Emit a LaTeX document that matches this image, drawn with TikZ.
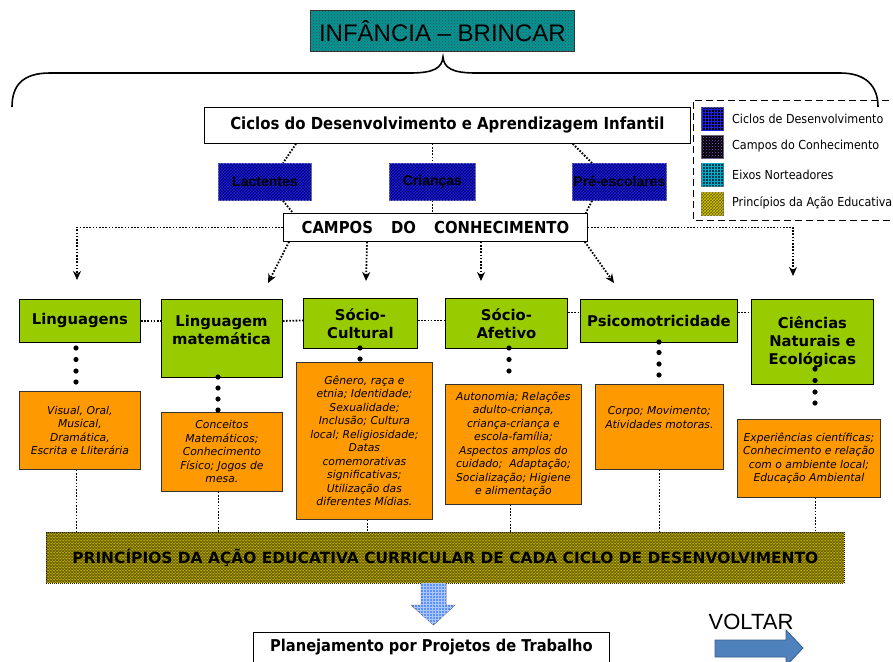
\documentclass[tikz,border=0pt]{standalone}
\usepackage{fontspec}
\usepackage{graphicx}
\usetikzlibrary{arrows.meta,patterns}
\newfontfamily\verd{DejaVu Sans}
\newfontfamily\arl{Liberation Sans}
\newfontfamily\cnd{DejaVu Sans Condensed}
\definecolor{grn}{RGB}{153,204,0}
\definecolor{org}{RGB}{255,153,0}
\definecolor{tealc}{RGB}{0,150,150}
\definecolor{navy}{RGB}{0,0,95}
\definecolor{navyp}{RGB}{30,30,235}
\definecolor{olivec}{RGB}{105,95,0}
\definecolor{olivep}{RGB}{215,200,0}
\definecolor{lblue}{RGB}{95,145,250}
\definecolor{lbluep}{RGB}{170,200,255}
\definecolor{voltc}{RGB}{79,129,189}
\definecolor{voltd}{RGB}{56,93,138}
\begin{document}
\begin{tikzpicture}[x=1pt,y=-1pt,
  gbox/.style={draw=black, line width=0.9pt, fill=grn, anchor=north west, inner sep=0pt, align=center,
    font=\verd\bfseries\fontsize{14.8}{18}\selectfont},
  gtext/.style={inner sep=0pt, align=center, font=\verd\bfseries\fontsize{14.8}{18}\selectfont},
  obox/.style={draw=black!80, line width=0.8pt, fill=org, anchor=north west, inner sep=0pt, align=center,
    font=\verd\itshape\fontsize{10.8}{13.5}\selectfont},
  bbox/.style={draw=black!50, line width=0.8pt, fill=navy, postaction={pattern=crosshatch, pattern color=navyp},
    anchor=north west, inner sep=0pt, font=\arl\bfseries\fontsize{14}{16}\selectfont, text=black},
  wbox/.style={draw=black, line width=0.8pt, fill=white, anchor=north west, inner sep=0pt},
  dline/.style={line width=1.8pt, dash pattern=on 1.6pt off 1.6pt},
  darr/.style={dline, -{Stealth[length=9pt,width=8pt]}},
  lsq/.style={draw=black!60, line width=0.5pt, anchor=north west, inner sep=0pt, minimum width=22pt, minimum height=23pt},
  ltxt/.style={anchor=west, inner sep=0pt, font=\cnd\fontsize{12.4}{14}\selectfont},
  bdot/.style={fill=black}
]
\useasboundingbox (0,0) rectangle (893,661);

% title
\node[draw=black!80, line width=0.8pt, fill=tealc, postaction={pattern=crosshatch dots, pattern color=black!70},
  anchor=north west, inner sep=0pt, minimum width=264pt, minimum height=41pt,
  font=\arl\fontsize{24}{26}\selectfont] (title) at (310,10) {INFÂNCIA – BRINCAR};

% brace
\draw[line width=1.6pt] (12,107) .. controls (12,86) and (22,73) .. (50,73) -- (410,73)
  .. controls (434,73) and (442,68) .. (443,57)
  .. controls (444,68) and (452,73) .. (476,73) -- (840,73)
  .. controls (866,73) and (878,86) .. (878,107);

% legend
\draw[line width=1pt, dash pattern=on 7pt off 4pt] (900,100) -- (693,100) -- (693,220) -- (900,220);
\node[lsq, fill=black, postaction={pattern=grid, pattern color=navyp}] (l1) at (701,107) {};
\node[lsq, fill=black, postaction={pattern=crosshatch dots, pattern color={rgb,255:red,150;green,80;blue,230}}] (l2) at (701,135) {};
\node[lsq, fill={rgb,255:red,0;green,60;blue,80}, postaction={pattern=grid, pattern color={rgb,255:red,0;green,170;blue,200}}] (l3) at (701,163) {};
\node[lsq, fill=olivec, postaction={pattern=crosshatch, pattern color=olivep}] (l4) at (701,192) {};
\node[ltxt] (l1t) at (732,118.5) {Ciclos de Desenvolvimento};
\node[ltxt] (l2t) at (732,146.5) {Campos do Conhecimento};
\node[ltxt] (l3t) at (732,174.5) {Eixos Norteadores};
\node[ltxt] (l4t) at (732,203) {Princípios da Ação Educativa};

% ciclos box
\node[wbox, minimum width=486pt, minimum height=36pt, font=\cnd\bfseries\fontsize{16.6}{18}\selectfont] (cic) at (204,107)
  {Ciclos do Desenvolvimento e Aprendizagem Infantil};

% blue boxes
\node[bbox, minimum width=93pt, minimum height=37pt] (b1) at (218,163) {Lactentes};
\node[bbox, minimum width=86pt, minimum height=37pt] (b2) at (389,163) {Crianças};
\node[bbox, minimum width=94pt, minimum height=37pt] (b3) at (572,163) {Pré-escolares};

% campos box
\node[wbox, minimum width=304pt, minimum height=28pt, font=\cnd\bfseries\fontsize{16.5}{18}\selectfont] (camp) at (283,213)
  {CAMPOS\hspace{1.1em}DO\hspace{1.1em}CONHECIMENTO};

% ciclos -> blue -> campos
\draw[dline] ([xshift=92pt]cic.south west) -- ([xshift=65pt]b1.north west);
\draw[dline] (b2.north |- cic.south) -- (b2.north);
\draw[dline] ([xshift=-118pt]cic.south east) -- ([xshift=20pt]b3.north west);
\draw[dline] ([xshift=65pt]b1.south west) -- ([xshift=10pt]camp.north west);
\draw[dline] (b2.south) -- (b2.south |- camp.north);
\draw[dline] ([xshift=20pt]b3.south west) -- ([xshift=-2pt]camp.north east);

% green boxes
\node[gbox, minimum width=121pt, minimum height=43pt] (g1) at (19,299) {Linguagens};
\node[gbox, minimum width=121pt, minimum height=78pt] (g2) at (161,299) {};
\node[gtext] (g2t) at (221.5,330) {Linguagem\\matemática};
\node[gbox, minimum width=114pt, minimum height=50pt] (g3) at (303,298) {Sócio-\\Cultural};
\node[gbox, minimum width=122pt, minimum height=50pt] (g4) at (445,298) {Sócio-\\Afetivo};
\node[gbox, minimum width=157pt, minimum height=43pt] (g5) at (580,299) {Psicomotricidade};
\node[gbox, minimum width=122pt, minimum height=85pt] (g6) at (751,299) {Ciências\\Naturais e\\Ecológicas};

% arrows from campos
\coordinate (a1) at (77,280);
\coordinate (a2) at (268,283);
\coordinate (a3) at (366,281);
\coordinate (a4) at (481,281);
\coordinate (a5) at (614,283);
\coordinate (a6) at (793,276);
\draw[darr] (camp.west) -| (a1);
\draw[darr] ([xshift=6pt]camp.south west) -- (a2);
\draw[darr] ([xshift=84pt]camp.south west) -- (a3);
\draw[darr] ([xshift=198pt]camp.south west) -- (a4);
\draw[darr] ([xshift=-3pt]camp.south east) -- (a5);
\draw[darr] (camp.east) -| (a6);

% green links
\draw[dline] (g1.east) -- ([yshift=17.5pt]g2.west);
\draw[dline] ([yshift=17.5pt]g2.east) -- ([yshift=3pt]g3.west);
\draw[dline] ([yshift=3pt]g3.east) -- ([yshift=3pt]g4.west);
\draw[dline] ([yshift=11pt]g4.east) -- ([yshift=8.5pt]g5.west);
\draw[dline] ([yshift=8.5pt]g5.east) -- ([yshift=29.5pt]g6.west);

% orange boxes
\node[obox, minimum width=121pt, minimum height=78pt] (o1) at (19,391)
  {Visual, Oral,\\Musical,\\Dramática,\\Escrita e Lliterária};
\node[obox, minimum width=121pt, minimum height=79pt] (o2) at (161,412)
  {Conceitos\\Matemáticos;\\Conhecimento\\Físico; Jogos de\\mesa.};
\node[obox, minimum width=136pt, minimum height=157pt] (o3) at (296,362)
  {Gênero, raça e\\etnia; Identidade;\\Sexualidade;\\Inclusão; Cultura\\local; Religiosidade;\\Datas\\comemorativas\\significativas;\\Utilização das\\diferentes Mídias.};
\node[obox, minimum width=136pt, minimum height=120pt] (o4) at (445,384)
  {Autonomia; Relações\\adulto-criança,\\criança-criança e\\escola-família;\\Aspectos amplos do\\cuidado;\ \ Adaptação;\\Socialização; Higiene\\e alimentação};
\node[obox, minimum width=128pt, minimum height=85pt] (o5) at (595,384)
  {Corpo; Movimento;\\Atividades motoras.\\[6pt]};
\node[obox, minimum width=143pt, minimum height=78pt] (o6) at (737,419)
  {Experiências científicas;\\Conhecimento e relação\\com o ambiente local;\\Educação Ambiental};

% bullet chains
\foreach \yy in {348,359.5,371,382} \fill[bdot] (76,\yy) circle (2.6pt);
\foreach \yy in {377,388,399,410} \fill[bdot] (218,\yy) circle (2.6pt);
\foreach \yy in {348,359} \fill[bdot] (360,\yy) circle (2.6pt);
\foreach \yy in {348,359.5,371} \fill[bdot] (509,\yy) circle (2.6pt);
\foreach \yy in {342,352.5,364,375} \fill[bdot] (659,\yy) circle (2.6pt);
\foreach \yy in {369,380.5,392,403} \fill[bdot] (815,\yy) circle (2.6pt);

% principles bar
\node[draw=black, line width=0.6pt, dash pattern=on 1pt off 1pt, fill=olivec, postaction={pattern=crosshatch, pattern color=olivep},
  anchor=north west, inner sep=0pt, minimum width=798pt, minimum height=51pt] (bar) at (46,532)
  {\resizebox{746pt}{!}{\verd\bfseries PRINCÍPIOS DA AÇÃO EDUCATIVA CURRICULAR DE CADA CICLO DE DESENVOLVIMENTO}};

% orange -> bar
\draw[dline] ([xshift=-3.5pt]o1.south) -- ([xshift=-3.5pt]o1.south |- bar.north);
\draw[dline] ([xshift=-3.5pt]o2.south) -- ([xshift=-3.5pt]o2.south |- bar.north);
\draw[dline] ([xshift=3pt]o3.south) -- ([xshift=3pt]o3.south |- bar.north);
\draw[dline] ([xshift=-3pt]o4.south) -- ([xshift=-3pt]o4.south |- bar.north);
\draw[dline] (o5.south) -- (o5.south |- bar.north);
\draw[dline] ([xshift=6.5pt]o6.south) -- ([xshift=6.5pt]o6.south |- bar.north);

% blue down arrow
\draw[black!60, line width=0.5pt, fill=lblue, postaction={pattern=grid, pattern color=lbluep}]
  (421,583) -- (446,583) -- (446,605) -- (455,605) -- (433.5,625) -- (411,605) -- (421,605) -- cycle;

% planejamento box
\node[wbox, minimum width=356pt, minimum height=36pt, font=\cnd\bfseries\fontsize{16.3}{18}\selectfont] (plan) at (253,632)
  {\raisebox{10pt}{Planejamento por Projetos de Trabalho}};

% voltar
\node[inner sep=0pt, font=\arl\fontsize{22}{24}\selectfont] (volt) at (751,622) {VOLTAR};
\draw[voltd, line width=0.8pt, fill=voltc]
  (715,640) -- (786,640) -- (786,630) -- (803,648) -- (786,666) -- (786,657) -- (715,657) -- cycle;
\end{tikzpicture}
\end{document}
